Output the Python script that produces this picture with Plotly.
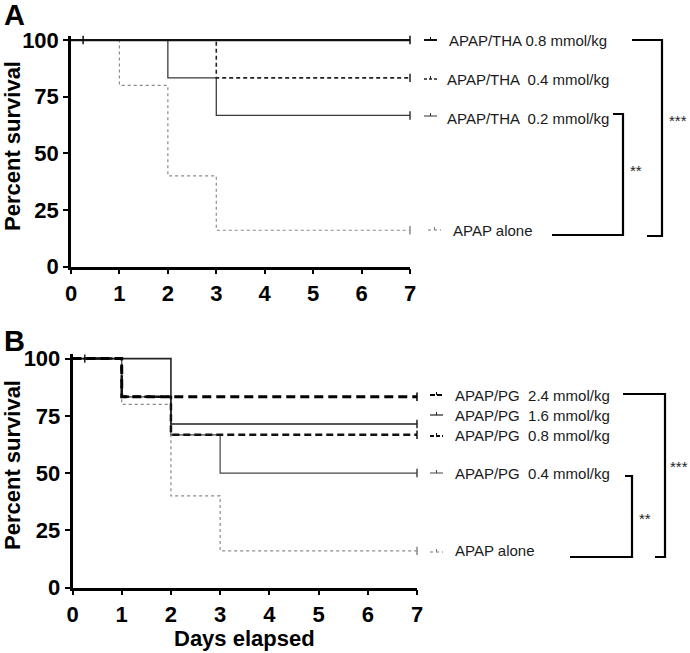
import plotly.graph_objects as go

W, H = 690, 653

# ---------------- data ----------------
days_ticks = [0, 1, 2, 3, 4, 5, 6, 7]
surv_ticks = [0, 25, 50, 75, 100]

# Panel A (THA)
a_names = ["APAP/THA 0.8 mmol/kg", "APAP/THA  0.4 mmol/kg", "APAP/THA  0.2 mmol/kg", "APAP alone"]
a_tha08_t = [0, 7]
a_tha08_s = [100, 100]
a_tha04_t = [0, 3, 7]
a_tha04_s = [100, 83.3, 83.3]
a_tha02_t = [0, 2, 3, 7]
a_tha02_s = [100, 83.3, 66.7, 66.7]
a_alone_t = [0, 1, 2, 3, 7]
a_alone_s = [100, 80, 40, 16, 16]

# Panel B (PG)
b_names = ["APAP/PG  2.4 mmol/kg", "APAP/PG  1.6 mmol/kg", "APAP/PG  0.8 mmol/kg", "APAP/PG  0.4 mmol/kg", "APAP alone"]
b_pg24_t = [0, 1, 7]
b_pg24_s = [100, 83.3, 83.3]
b_pg16_t = [0, 2, 7]
b_pg16_s = [100, 71.4, 71.4]
b_pg08_t = [0, 1, 2, 7]
b_pg08_s = [100, 83.3, 66.7, 66.7]
b_pg04_t = [0, 1, 2, 3, 7]
b_pg04_s = [100, 83.3, 66.7, 50, 50]
b_alone_t = [0, 1, 2, 3, 7]
b_alone_s = [100, 80, 40, 16, 16]

censor_t = 0.25  # early censored observation

# ---------------- helpers ----------------
def px(x):
    return x / W

def py(y):
    return 1 - y / H

FONT = "Liberation Sans, Arial, sans-serif"

fig = go.Figure()

def add_curve(t, s, xa, ya, color, width, dash, name, early=False):
    fig.add_trace(go.Scatter(
        x=t, y=s, mode="lines", line=dict(shape="hv", color=color, width=width, dash=dash),
        xaxis=xa, yaxis=ya, name=name, showlegend=False, hoverinfo="skip"))
    cx = [t[-1]]
    cy = [s[-1]]
    if early:
        cx = [censor_t] + cx
        cy = [s[0]] + cy
    fig.add_trace(go.Scatter(
        x=cx, y=cy, mode="markers", cliponaxis=False,
        marker=dict(symbol="line-ns", size=6, line=dict(color=color, width=1.5)),
        xaxis=xa, yaxis=ya, showlegend=False, hoverinfo="skip"))

# Panel A curves
add_curve(a_alone_t, a_alone_s, "x", "y", "#8a8a8a", 1.2, "dot", a_names[3])
add_curve(a_tha02_t, a_tha02_s, "x", "y", "#3a3a3a", 1.3, "solid", a_names[2])
add_curve(a_tha04_t, a_tha04_s, "x", "y", "#222222", 1.6, "4px,3px", a_names[1])
add_curve(a_tha08_t, a_tha08_s, "x", "y", "#111111", 2.2, "solid", a_names[0], early=True)

# Panel B curves
add_curve(b_alone_t, b_alone_s, "x2", "y2", "#8a8a8a", 1.2, "dot", b_names[4])
add_curve(b_pg04_t, b_pg04_s, "x2", "y2", "#444444", 1.2, "solid", b_names[3])
add_curve(b_pg16_t, b_pg16_s, "x2", "y2", "#222222", 1.6, "solid", b_names[1], early=True)
add_curve(b_pg08_t, b_pg08_s, "x2", "y2", "#111111", 2.5, "7px,4px", b_names[2])
add_curve(b_pg24_t, b_pg24_s, "x2", "y2", "#000000", 3.0, "9px,5px", b_names[0])

axis_common = dict(
    showline=True, linewidth=2.5, linecolor="black", showgrid=False, zeroline=False,
    ticks="outside", ticklen=5, tickwidth=2, tickcolor="black", automargin=False,
    tickfont=dict(family=FONT, size=22, color="black", weight=700),
)

fig.update_layout(
    width=W, height=H, margin=dict(l=0, r=0, t=0, b=0, pad=0, autoexpand=False),
    paper_bgcolor="white", plot_bgcolor="white",
    xaxis=dict(domain=[px(71), px(410)], range=[0, 7], tickvals=days_ticks, anchor="y", **axis_common),
    yaxis=dict(domain=[py(266.5), py(35.5)], range=[0, 102], tickvals=surv_ticks, anchor="x", **axis_common),
    xaxis2=dict(domain=[px(72.5), px(417)], range=[0, 7], tickvals=days_ticks, anchor="y2", **axis_common),
    yaxis2=dict(domain=[py(587.5), py(354)], range=[0, 102], tickvals=surv_ticks, anchor="x2", **axis_common),
    showlegend=False,
)

ann = []
# Panel letters
ann.append(dict(text="A", x=px(2), y=py(15), xref="paper", yref="paper", xanchor="left", yanchor="middle",
                showarrow=False, font=dict(family=FONT, size=29, color="black", weight=700)))
ann.append(dict(text="B", x=px(2), y=py(341), xref="paper", yref="paper", xanchor="left", yanchor="middle",
                showarrow=False, font=dict(family=FONT, size=29, color="black", weight=700)))
# y titles
for yc in (146, 465):
    ann.append(dict(text="Percent survival", x=px(12), y=py(yc), xref="paper", yref="paper",
                    xanchor="center", yanchor="middle", textangle=-90, showarrow=False,
                    font=dict(family=FONT, size=22, color="black", weight=700)))
# x title
ann.append(dict(text="Days elapsed", x=px(244), y=py(638), xref="paper", yref="paper",
                xanchor="center", yanchor="middle", showarrow=False,
                font=dict(family=FONT, size=22, color="black", weight=700)))

LABEL_FONT = dict(family=FONT, size=15, color="#1a1a1a")

# Panel A labels (anchored at curve end values)
a_end = [a_tha08_s[-1], a_tha04_s[-1], a_tha02_s[-1], a_alone_s[-1]]
a_lx = [447, 445, 445, 451]
a_shift = [0, -2, -3, 0]
for name, v, lx, sh in zip(a_names, a_end, a_lx, a_shift):
    ann.append(dict(text=name, x=px(lx), y=v, xref="paper", yref="y", xanchor="left", yanchor="middle",
                    yshift=sh, showarrow=False, font=LABEL_FONT))

# Panel B labels
b_end = [b_pg24_s[-1], b_pg16_s[-1], b_pg08_s[-1], b_pg04_s[-1], b_alone_s[-1]]
b_shift = [1, 9, -1, 0, 0]
for name, v, sh in zip(b_names, b_end, b_shift):
    ann.append(dict(text=name, x=px(453), y=v, xref="paper", yref="y2", xanchor="left", yanchor="middle",
                    yshift=sh, showarrow=False, font=LABEL_FONT))

# Significance stars
STAR = dict(family=FONT, size=15, color="#222")
ann.append(dict(text="***", x=px(667), y=py(120), xref="paper", yref="paper", xanchor="left", yanchor="middle",
                showarrow=False, font=STAR))
ann.append(dict(text="**", x=px(628), y=py(171), xref="paper", yref="paper", xanchor="left", yanchor="middle",
                showarrow=False, font=STAR))
ann.append(dict(text="***", x=px(668), y=py(466), xref="paper", yref="paper", xanchor="left", yanchor="middle",
                showarrow=False, font=STAR))
ann.append(dict(text="**", x=px(637), y=py(518), xref="paper", yref="paper", xanchor="left", yanchor="middle",
                showarrow=False, font=STAR))
fig.update_layout(annotations=ann)

shapes = []
def seg(x0, y0, x1, y1, w=2.2, color="black", dash="solid"):
    shapes.append(dict(type="line", xref="paper", yref="paper", x0=px(x0), y0=py(y0), x1=px(x1), y1=py(y1),
                       line=dict(color=color, width=w, dash=dash)))

def bracket(xl_top, xl_bot, xr, ytop, ybot):
    shapes.append(dict(type="path", xref="paper", yref="paper",
                       path=f"M {px(xl_top)} {py(ytop)} L {px(xr)} {py(ytop)} L {px(xr)} {py(ybot)} L {px(xl_bot)} {py(ybot)}",
                       line=dict(color="black", width=2.2)))

# Panel A brackets
bracket(632, 647, 662, 40, 236)
bracket(613, 552, 623, 114, 235)
# Panel B brackets
bracket(623, 655, 665, 394, 557)
bracket(625, 570, 632, 476, 557)

# legend glyphs
def glyph(x0, x1, yc, color, w, dash):
    seg(x0, yc, x1, yc, w=w, color=color, dash=dash)
    xm = (x0 + x1) / 2
    seg(xm, yc - 3, xm, yc, w=1, color=color)

glyph(424, 437, 40, "#111", 2.0, "solid")
glyph(424, 437, 79, "#222", 1.3, "3px,2px")
glyph(424, 437, 116, "#333", 1.0, "solid")
glyph(428, 441, 230, "#777", 1.0, "dot")

glyph(430, 443, 395, "#000", 2.2, "5px,2px")
glyph(430, 443, 415, "#222", 1.2, "solid")
glyph(430, 443, 436, "#111", 2.0, "4px,2px")
glyph(430, 443, 473, "#444", 1.0, "solid")
glyph(430, 443, 552, "#777", 1.0, "dot")

fig.update_layout(shapes=shapes)

fig.write_html("out.html", config={"displayModeBar": False},
               post_script="document.body.style.margin='0';document.body.style.overflow='hidden';")
